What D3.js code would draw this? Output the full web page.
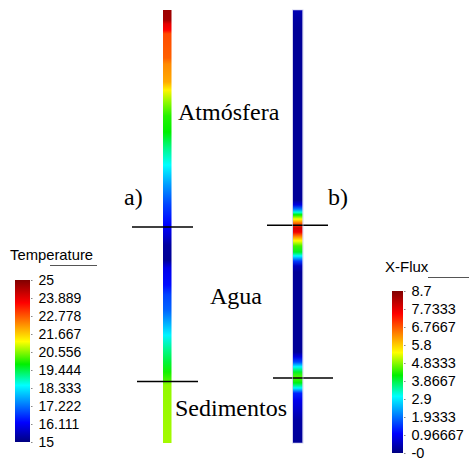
<!DOCTYPE html>
<html>
<head>
<meta charset="utf-8">
<script src="https://cdn.jsdelivr.net/npm/d3@7"></script>
<style>
  body { margin: 0; background: #fff; }
  svg { display: block; }
  .leg text { font-family: "Liberation Sans", Arial, sans-serif; fill: #000; }
  .lab { font-family: "Liberation Serif", "Times New Roman", serif; font-size: 24px; fill: #000; }
</style>
</head>
<body>
<div id="chart"></div>
<script>
// position along the column (0 = top, 100 = bottom) and the value read there
var tempPos = [0, 2.3, 3.2, 4.6, 5.5, 11.1, 12.5, 16.6, 18.5, 21.2, 24.5, 28.2, 31.9, 35.8, 40.4, 45.0,
    49.7, 52.0, 54.3, 57.7, 59.6, 63.5, 65.8, 69.3, 71.6, 75.1, 78.5, 81.3, 83.6, 85.5, 86.6, 100];
var tempVal = [24.7, 24.6, 23.9, 23.6, 22.9, 22.7, 22.3, 22.0, 21.3, 20.6, 20.0, 19.8, 19.1, 18.5, 17.6, 16.8,
    16.2, 15.8, 15.3, 15.2, 16.0, 16.3, 16.8, 17.1, 17.6, 18.4, 19.1, 19.5, 19.9, 20.2, 20.6, 20.7];

var fluxPos = [0, 1.8, 4.6, 43.9, 45.0, 46.0, 46.7, 47.3, 48.3, 49.2, 50.3, 51.3, 52.4, 53.3, 54.5, 55.9,
    56.8, 58.0, 59.1, 60.5, 79.0, 80.1, 81.3, 82.4, 83.6, 84.8, 86.1, 87.3, 88.5, 90.1, 92.4, 94.7, 100];
var fluxVal = [0.45, 0.3, 0.2, 0.2, 0.8, 2.0, 3.2, 4.2, 5.4, 6.6, 7.9, 7.6, 6.3, 5.4, 4.5, 4.0,
    3.0, 1.5, 0.5, 0.2, 0.2, 0.8, 1.6, 3.0, 4.0, 4.6, 4.1, 3.0, 1.3, 0.9, 0.6, 0.3, 0.2];

// interface positions (a: left column, b: right column)
var interfA = [50.1, 85.8];
var interfB = [49.7, 85.0];

var tempTicks = ["15", "16.111", "17.222", "18.333", "19.444", "20.556", "21.667", "22.778", "23.889", "25"];
var fluxTicks = ["-0", "0.96667", "1.9333", "2.9", "3.8667", "4.8333", "5.8", "6.7667", "7.7333", "8.7"];

var cmapStops = [0, 0.12, 0.35, 0.48, 0.62, 0.86, 1];
var cmapColors = ["#000080", "#0000ff", "#00ffff", "#00f000", "#ffff00", "#ff0000", "#800000"];

var width = 469, height = 460;
var svg = d3.select("#chart").append("svg")
    .attr("width", width)
    .attr("height", height);
var defs = svg.append("defs");

var cmap = d3.scaleLinear().domain(cmapStops).range(cmapColors).interpolate(d3.interpolateRgb);
var y = d3.scaleLinear().domain([0, 100]).range([10, 443]);

function columnGradient(id, pos, vals, vmin, vmax) {
    var t = d3.scaleLinear().domain([vmin, vmax]).range([0, 1]).clamp(true);
    var g = defs.append("linearGradient").attr("id", id)
        .attr("x1", 0).attr("y1", 0).attr("x2", 0).attr("y2", 1);
    g.selectAll("stop").data(pos).enter().append("stop")
        .attr("offset", function(d) { return d / 100; })
        .attr("stop-color", function(d, i) { return cmap(t(vals[i])); });
}

function drawColumn(id, x, w, pos, vals, vmin, vmax, interf, lineL, lineR) {
    columnGradient(id, pos, vals, vmin, vmax);
    svg.append("rect")
        .attr("x", x).attr("y", y(0))
        .attr("width", w).attr("height", y(100) - y(0))
        .attr("fill", "url(#" + id + ")");
    svg.selectAll(".if-" + id).data(interf).enter().append("line")
        .attr("class", "if-" + id)
        .attr("x1", function(d, i) { return lineL[i]; })
        .attr("x2", function(d, i) { return lineR[i]; })
        .attr("y1", function(d) { return y(d); })
        .attr("y2", function(d) { return y(d); })
        .attr("stroke", "#000").attr("stroke-width", 1.6);
}

drawColumn("colA", 163, 8.5, tempPos, tempVal, 15, 25, interfA, [132, 137], [193, 198]);
drawColumn("colB", 293, 9.5, fluxPos, fluxVal, 0, 8.7, interfB, [267, 273], [328, 333]);
svg.append("rect").attr("x", 292.5).attr("y", y(0)).attr("width", 10.5).attr("height", y(100) - y(0))
    .attr("fill", "none").attr("stroke", "#b8b8e8").attr("stroke-width", 1).attr("stroke-opacity", 0.6);

// region labels
var labels = [
    {t: "Atmósfera", x: 178, y: 120},
    {t: "Agua", x: 210, y: 304},
    {t: "Sedimentos", x: 175, y: 416},
    {t: "a)", x: 124, y: 205},
    {t: "b)", x: 328, y: 205}
];
svg.selectAll(".lab").data(labels).enter().append("text")
    .attr("class", "lab")
    .attr("x", function(d) { return d.x; })
    .attr("y", function(d) { return d.y; })
    .text(function(d) { return d.t; });

function drawLegend(id, title, tx, ty, ul, bx, bw, top, bottom, vmin, vmax, ticks, fs, tfs) {
    var g = defs.append("linearGradient").attr("id", id)
        .attr("x1", 0).attr("y1", 1).attr("x2", 0).attr("y2", 0);
    g.selectAll("stop").data(cmapStops).enter().append("stop")
        .attr("offset", function(d) { return d; })
        .attr("stop-color", function(d, i) { return cmapColors[i]; });
    var leg = svg.append("g").attr("class", "leg");
    leg.append("text").attr("x", tx).attr("y", ty).style("font-size", tfs + "px").text(title);
    leg.append("line").attr("x1", ul[0]).attr("x2", ul[1]).attr("y1", ty + 5.5).attr("y2", ty + 5.5)
        .attr("stroke", "#555").attr("stroke-width", 1);
    leg.append("rect").attr("x", bx).attr("y", top).attr("width", bw).attr("height", bottom - top)
        .attr("fill", "url(#" + id + ")");
    var s = d3.scaleLinear().domain([vmin, vmax]).range([bottom, top]);
    var vals = ticks.map(function(d, i) { return vmin + i * (vmax - vmin) / (ticks.length - 1); });
    var ax = leg.append("g").attr("transform", "translate(" + (bx + bw + 1) + ",0)")
        .call(d3.axisRight(s).tickValues(vals).tickSize(1.5).tickPadding(6)
            .tickFormat(function(d, i) { return ticks[i]; }));
    ax.select(".domain").remove();
    ax.selectAll("line").attr("stroke", "#888");
    ax.selectAll("text").style("font-size", fs + "px")
        .style("font-family", "'Liberation Sans', Arial, sans-serif").attr("fill", "#000");
}

drawLegend("legA", "Temperature", 10, 260, [50, 97], 15, 15, 280, 442, 15, 25, tempTicks, 14, 14.8);
drawLegend("legB", "X-Flux", 385, 272, [428, 469], 392, 11, 291, 453, 0, 8.7, fluxTicks, 14.5, 15);
</script>
</body>
</html>
